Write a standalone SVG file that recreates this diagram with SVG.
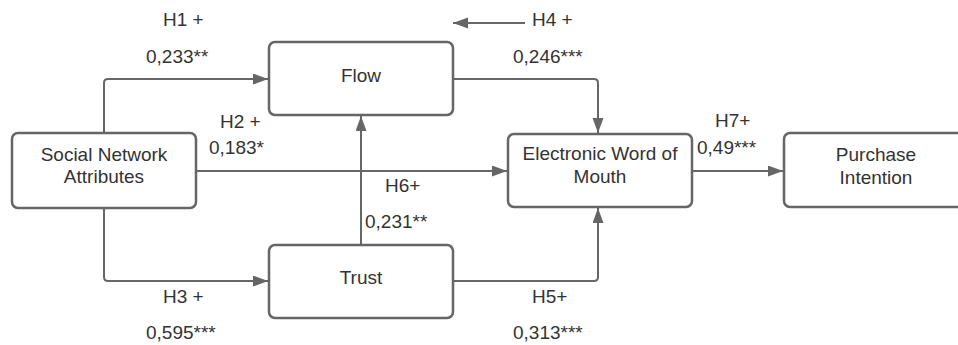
<svg xmlns="http://www.w3.org/2000/svg" width="958" height="345" viewBox="0 0 958 345">
<style>
.box{fill:#fff;stroke:#666;stroke-width:2.5}
.c{fill:none;stroke:#666;stroke-width:2}
text{font-family:"Liberation Sans",Arial,sans-serif;font-size:19px;fill:#333}
.m{text-anchor:middle}
</style>
<defs>
<marker id="ah" markerUnits="userSpaceOnUse" markerWidth="16" markerHeight="12" refX="15" refY="5.5" orient="auto">
<path d="M0,0 L15,5.5 L0,11 Z" fill="#666"/>
</marker>
</defs>
<rect width="958" height="345" fill="#fff"/>
<g id="connectors">
<path class="c" d="M104,133 V83 Q104,79 108,79 H268" marker-end="url(#ah)"/>
<path class="c" d="M104,208 V277 Q104,281 108,281 H268" marker-end="url(#ah)"/>
<path class="c" d="M196,171 H507" marker-end="url(#ah)"/>
<path class="c" d="M453,79 H594 Q598,79 598,83 V133" marker-end="url(#ah)"/>
<path class="c" d="M453,281 H594 Q598,281 598,277 V208" marker-end="url(#ah)"/>
<path class="c" d="M361,245 V116" marker-end="url(#ah)"/>
<path class="c" d="M692,171 H783" marker-end="url(#ah)"/>
<path class="c" d="M525,23 H453" marker-end="url(#ah)"/>
</g>
<g id="labels">
<text x="163" y="26">H1 +</text>
<text x="146" y="63">0,233**</text>
<text x="532" y="26">H4 +</text>
<text x="513" y="63">0,246***</text>
<text x="220" y="128">H2 +</text>
<text x="209" y="154">0,183*</text>
<text x="385" y="192">H6+</text>
<text x="365" y="228">0,231**</text>
<text x="715" y="127">H7+</text>
<text x="697" y="154">0,49***</text>
<text x="163" y="303">H3 +</text>
<text x="146" y="339">0,595***</text>
<text x="532" y="303">H5+</text>
<text x="513" y="339">0,313***</text>
</g>
<g id="sna">
<rect class="box" x="12" y="133" width="184" height="75" rx="6"/>
<text class="m" x="104" y="161">Social Network</text>
<text class="m" x="104" y="183">Attributes</text>
</g>
<g id="flow">
<rect class="box" x="269" y="42" width="184" height="73" rx="6"/>
<text class="m" x="361" y="82">Flow</text>
</g>
<g id="trust">
<rect class="box" x="269" y="245" width="184" height="73" rx="6"/>
<text class="m" x="361" y="284">Trust</text>
</g>
<g id="ewom">
<rect class="box" x="508" y="134" width="184" height="73" rx="6"/>
<text class="m" x="600" y="160">Electronic Word of</text>
<text class="m" x="600" y="183">Mouth</text>
</g>
<g id="pi">
<rect class="box" x="784" y="133" width="184" height="74" rx="6"/>
<text class="m" x="876" y="161">Purchase</text>
<text class="m" x="876" y="184">Intention</text>
</g>
</svg>
